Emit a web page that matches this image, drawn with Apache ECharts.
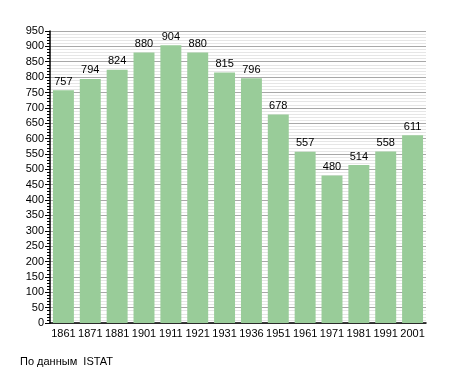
<!DOCTYPE html>
<html><head><meta charset="utf-8">
<script src="https://cdn.jsdelivr.net/npm/echarts@6/dist/echarts.min.js"></script>
<style>html,body{margin:0;padding:0;background:#fff}#c{width:455px;height:373px}</style>
</head><body><div id="c"></div>
<script>
const years = ['1861','1871','1881','1901','1911','1921','1931','1936','1951','1961','1971','1981','1991','2001'];
const population = [757,794,824,880,904,880,815,796,678,557,480,514,558,611];
const sourceText = 'По данным  ISTAT';

const chart = echarts.init(document.getElementById('c'), null, {renderer:'canvas'});
const font = 'Liberation Sans, Arial, sans-serif';
chart.setOption({
  animation:false,
  backgroundColor:'#fff',
  grid:{left:50,right:29,top:31,bottom:50,containLabel:false},
  graphic:[{type:'text',left:20,top:356,style:{text:sourceText,font:'11px '+font,fill:'#000'}}],
  xAxis:{type:'category',data:years,
    axisLine:{lineStyle:{color:'#000',width:1.5}},
    axisTick:{show:false},
    axisLabel:{color:'#000',fontSize:11,fontFamily:font,margin:5,interval:0}},
  yAxis:{type:'value',min:0,max:950,interval:50,
    axisLine:{show:true,lineStyle:{color:'#000',width:1.5}},
    axisTick:{show:true,length:5,lineStyle:{color:'#000'}},
    minorTick:{show:true,splitNumber:5,length:3,lineStyle:{color:'#000'}},
    axisLabel:{color:'#000',fontSize:11,fontFamily:font,margin:6},
    splitLine:{show:true,lineStyle:{color:'#a8a8a8',width:1}},
    minorSplitLine:{show:true,lineStyle:{color:'#e6e6e6',width:1}}},
  series:[{type:'bar',data:population,barCategoryGap:'22%',
    itemStyle:{color:'#99cc99'},
    label:{show:true,position:'top',color:'#000',fontSize:11,fontFamily:font,distance:3}}]
});
</script></body></html>
